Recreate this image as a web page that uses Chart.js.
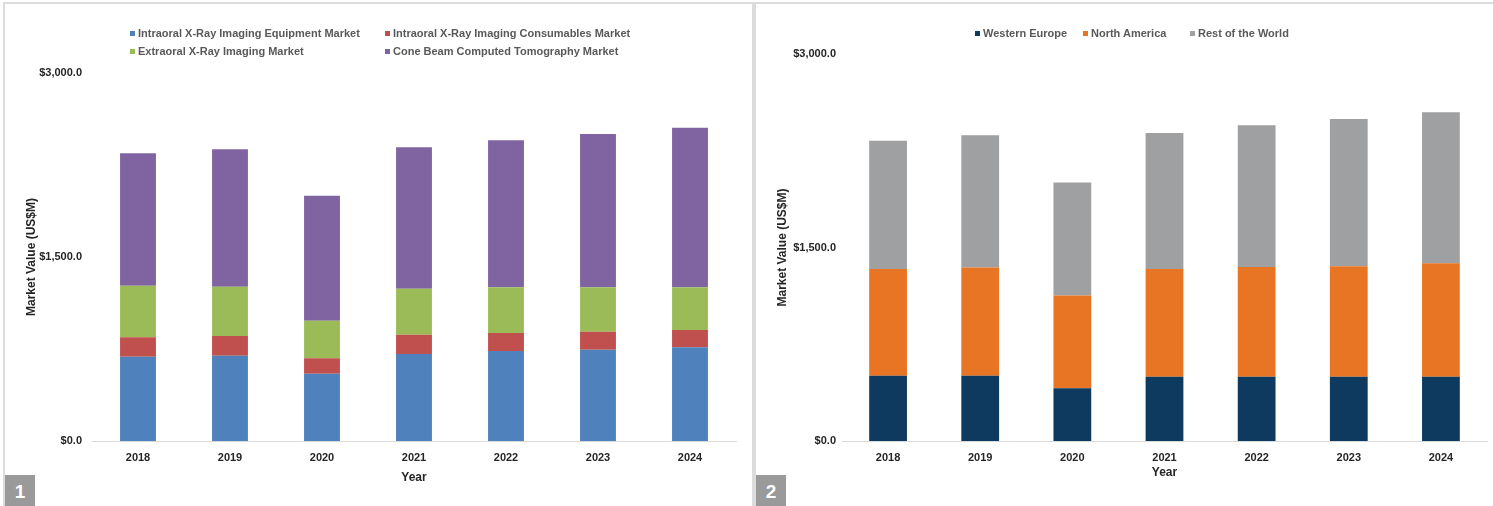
<!DOCTYPE html>
<html>
<head>
<meta charset="utf-8">
<script src="https://cdn.jsdelivr.net/npm/chart.js@4.4.0/dist/chart.umd.min.js"></script>
<style>
  body { margin: 0; background: #fff; width: 1493px; height: 506px; overflow: hidden; position: relative; font-family: "Liberation Sans", Arial, sans-serif; }
  .panel { position: absolute; top: 2px; height: 510px; border: 2px solid #dcdcdc; box-sizing: border-box; }
  .box { position: absolute; }
  .badge { position: absolute; top: 475px; width: 30px; height: 31px; background: #9a9a9a; color: #fff; font: bold 19px "Liberation Sans Narrow", "Liberation Sans", sans-serif; text-align: center; line-height: 33px; }
  .legend { position: absolute; font: bold 11px "Liberation Sans", Arial, sans-serif; color: #595959; white-space: nowrap; }
  .legend .item { position: absolute; }
  .legend .sw { display: inline-block; width: 5px; height: 5px; margin-right: 3px; vertical-align: 1px; }
</style>
</head>
<body>
<div class="panel" style="left:3px; width:751px;"></div>
<div class="panel" style="left:754px; width:745px;"></div>

<div class="box" style="left:5px; top:3px; width:745px; height:503px;"><canvas id="chart1"></canvas></div>
<div class="box" style="left:756px; top:3px; width:737px; height:503px;"><canvas id="chart2"></canvas></div>

<div class="legend" id="legend1" style="left:130px; top:27px;"></div>
<div class="legend" id="legend2" style="left:975px; top:27px;"></div>

<div class="badge" style="left:5px;">1</div>
<div class="badge" style="left:756px;">2</div>

<script>
// values, US$M
const years = ['2018', '2019', '2020', '2021', '2022', '2023', '2024'];

const equipment = [687, 695, 549, 709, 734, 744, 764];
const consumables = [158, 161, 125, 158, 146, 147, 141];
const extraoral = [421, 402, 307, 375, 373, 362, 348];
const cbct = [1079, 1120, 1019, 1152, 1198, 1250, 1301];

const westernEurope = [506, 506, 408, 499, 499, 499, 499];
const northAmerica = [827, 838, 719, 834, 850, 855, 878];
const restOfWorld = [995, 1026, 876, 1055, 1098, 1142, 1171];

const yTicks = [0, 1500, 3000];

const tickFont = { family: 'Liberation Sans', size: 11, weight: 'bold' };
const titleFont = { family: 'Liberation Sans', size: 12, weight: 'bold' };

function money(v) {
    return '$' + v.toLocaleString('en-US', { minimumFractionDigits: 1, maximumFractionDigits: 1 });
}

function makeOptions(o) {
    return {
        responsive: true,
        maintainAspectRatio: false,
        animation: false,
        layout: { padding: { top: o.top, right: o.right, left: 0, bottom: 0 } },
        plugins: { legend: { display: false }, tooltip: { enabled: false } },
        scales: {
            x: {
                stacked: true,
                grid: { display: false, drawTicks: false },
                border: { display: true, color: '#d9d9d9', width: 1 },
                ticks: { font: tickFont, color: '#262626', padding: 10 },
                title: { display: true, text: 'Year', font: titleFont, color: '#262626', padding: { top: 0, bottom: o.yearPad } },
                afterFit: s => { s.height = 65; }
            },
            y: {
                stacked: true,
                min: 0,
                max: 3000,
                grid: { display: false, drawTicks: false },
                border: { display: false },
                afterBuildTicks: s => { s.ticks = yTicks.map(v => ({ value: v })); },
                ticks: { font: tickFont, color: '#262626', padding: o.tickPad, callback: v => money(v) },
                title: { display: true, text: 'Market Value (US$M)', font: titleFont, color: '#262626', padding: { top: 19, bottom: 0 } },
                afterFit: s => { s.width = o.yWidth; }
            }
        }
    };
}

function buildLegend(el, chart, cols) {
    chart.data.datasets.forEach((ds, i) => {
        const item = document.createElement('div');
        item.className = 'item';
        item.style.left = cols[i][0] + 'px';
        item.style.top = cols[i][1] + 'px';
        item.innerHTML = '<span class="sw" style="background:' + ds.backgroundColor + '"></span>' + ds.label;
        el.appendChild(item);
    });
}

const chart1 = new Chart(document.getElementById('chart1'), {
    type: 'bar',
    data: {
        labels: years,
        datasets: [
            { label: 'Intraoral X-Ray Imaging Equipment Market', data: equipment, backgroundColor: '#4f81bd' },
            { label: 'Intraoral X-Ray Imaging Consumables Market', data: consumables, backgroundColor: '#c0504d' },
            { label: 'Extraoral X-Ray Imaging Market', data: extraoral, backgroundColor: '#9bbb59' },
            { label: 'Cone Beam Computed Tomography Market', data: cbct, backgroundColor: '#8064a2' }
        ].map(d => Object.assign(d, { barPercentage: 0.39, categoryPercentage: 1 }))
    },
    options: makeOptions({ top: 70, right: 14, yWidth: 87, tickPad: 10, yearPad: 21 })
});

const chart2 = new Chart(document.getElementById('chart2'), {
    type: 'bar',
    data: {
        labels: years,
        datasets: [
            { label: 'Western Europe', data: westernEurope, backgroundColor: '#0e3a5f' },
            { label: 'North America', data: northAmerica, backgroundColor: '#e87524' },
            { label: 'Rest of the World', data: restOfWorld, backgroundColor: '#9ea0a1' }
        ].map(d => Object.assign(d, { barPercentage: 0.41, categoryPercentage: 1 }))
    },
    options: makeOptions({ top: 51, right: 6, yWidth: 86, tickPad: 6, yearPad: 26 })
});

buildLegend(document.getElementById('legend1'), chart1, [[0, 0], [255, 0], [0, 18], [255, 18]]);
buildLegend(document.getElementById('legend2'), chart2, [[0, 0], [108, 0], [215, 0]]);
</script>
</body>
</html>
